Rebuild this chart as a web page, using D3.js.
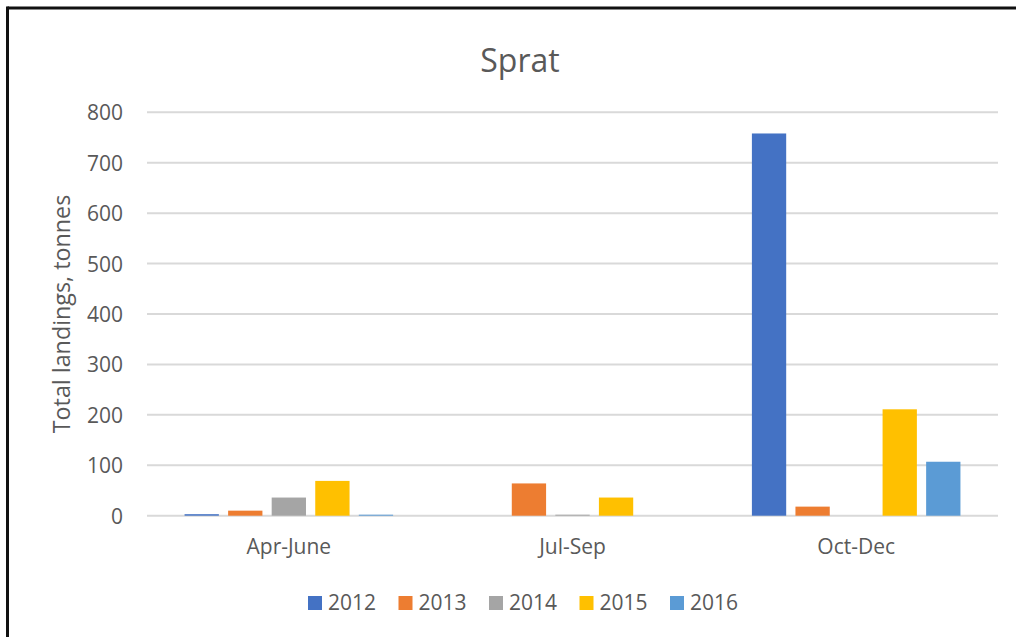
<!DOCTYPE html>
<html>
<head>
<meta charset="utf-8">
<script src="https://d3js.org/d3.v7.min.js"></script>
<style>
  html, body { margin: 0; padding: 0; background: #fff; }
  svg { display: block; font-family: "Open Sans", "DejaVu Sans", sans-serif; }
</style>
</head>
<body>
<div id="chart"></div>
<script>
// quarters and years
var categories = ["Apr-June", "Jul-Sep", "Oct-Dec"];
var years = ["2012", "2013", "2014", "2015", "2016"];
// landings in tonnes, one array per year, in the order of categories
var v2012 = [3, 0, 758];
var v2013 = [10, 64, 18];
var v2014 = [36, 2, 0];
var v2015 = [69, 36, 211];
var v2016 = [2, 0, 107];
var yTicks = [0, 100, 200, 300, 400, 500, 600, 700, 800];
var colors = ["#4472C4", "#ED7D31", "#A5A5A5", "#FFC000", "#5B9BD5"];

var series = [v2012, v2013, v2014, v2015, v2016];
var W = 1016, H = 637;
var plot = { left: 147, right: 998, top: 112.3, bottom: 515.7 };

var svg = d3.select("#chart").append("svg")
  .attr("width", W).attr("height", H);

// frame (top and left edges visible)
svg.append("line").attr("x1", 7.5).attr("x2", W).attr("y1", 8).attr("y2", 8)
  .attr("stroke", "#111").attr("stroke-width", 3);
svg.append("line").attr("x1", 7.5).attr("x2", 7.5).attr("y1", 6.5).attr("y2", H)
  .attr("stroke", "#111").attr("stroke-width", 3);

var y = d3.scaleLinear().domain([0, 800]).range([plot.bottom, plot.top]);
var x0 = d3.scaleBand().domain(categories).range([plot.left, plot.right]).padding(0);
// excel style: gap width 219%, overlap -27%
var w = x0.bandwidth() / 8.27;
var groupW = 6.08 * w;
var x1 = d3.scaleBand().domain(years).range([0, groupW])
  .paddingInner(0.27 / 1.27).paddingOuter(0);

// gridlines
svg.append("g").selectAll("line").data(yTicks).enter().append("line")
  .attr("x1", plot.left).attr("x2", plot.right)
  .attr("y1", function (d) { return y(d); })
  .attr("y2", function (d) { return y(d); })
  .attr("stroke", "#d9d9d9").attr("stroke-width", 2);

// y axis labels
var yAxis = svg.append("g").attr("transform", "translate(123,0)")
  .call(d3.axisLeft(y).tickValues(yTicks).tickSize(0).tickPadding(0));
yAxis.select(".domain").remove();
yAxis.selectAll("text")
  .attr("font-family", "Open Sans, sans-serif")
  .attr("font-size", "21px")
  .attr("fill", "#595959")
  .attr("dy", "0.36em");

// bars
var groups = svg.append("g").selectAll("g").data(categories).enter().append("g")
  .attr("transform", function (c) {
    return "translate(" + (x0(c) + (x0.bandwidth() - groupW) / 2) + ",0)";
  });
groups.selectAll("rect")
  .data(function (c, ci) {
    return years.map(function (yr, si) { return { year: yr, si: si, value: series[si][ci] }; });
  })
  .enter().append("rect")
  .attr("x", function (d) { return x1(d.year); })
  .attr("width", x1.bandwidth())
  .attr("y", function (d) { return y(d.value); })
  .attr("height", function (d) { return y(0) - y(d.value); })
  .attr("fill", function (d) { return colors[d.si]; });

// category labels
var xAxis = svg.append("g").attr("transform", "translate(0," + plot.bottom + ")")
  .call(d3.axisBottom(x0).tickSize(0).tickPadding(0));
xAxis.select(".domain").remove();
xAxis.selectAll("text")
  .attr("font-family", "Open Sans, sans-serif")
  .attr("font-size", "21px")
  .attr("fill", "#595959")
  .attr("dy", null)
  .attr("y", 38.5);

// title
svg.append("text")
  .attr("x", 520).attr("y", 72)
  .attr("text-anchor", "middle")
  .attr("font-size", "32px")
  .attr("fill", "#595959")
  .text("Sprat");

// y axis title
svg.append("text")
  .attr("transform", "translate(70," + ((plot.top + plot.bottom) / 2) + ") rotate(-90)")
  .attr("text-anchor", "middle")
  .attr("font-size", "23.3px")
  .attr("fill", "#595959")
  .text("Total landings, tonnes");

// legend
var legend = svg.append("g").attr("transform", "translate(308,596)");
var item = legend.selectAll("g").data(years).enter().append("g")
  .attr("transform", function (d, i) { return "translate(" + (i * 90.5) + ",0)"; });
item.append("rect").attr("width", 14).attr("height", 14)
  .attr("fill", function (d, i) { return colors[i]; });
item.append("text").attr("x", 20).attr("y", 13.5)
  .attr("font-size", "21px").attr("fill", "#595959")
  .text(function (d) { return d; });
</script>
</body>
</html>
